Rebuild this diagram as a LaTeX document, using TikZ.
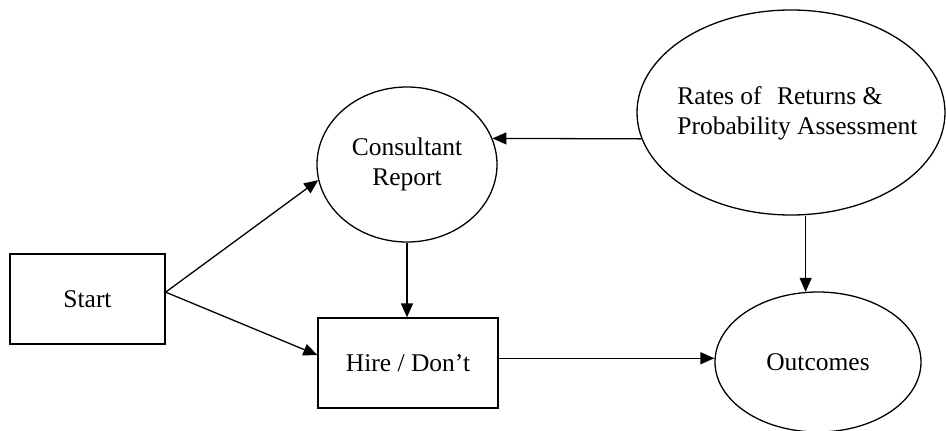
\documentclass[tikz,border=0pt]{standalone}
\usepackage{fontspec}
\setmainfont{Liberation Serif}
\usetikzlibrary{arrows.meta,shapes.geometric}
\begin{document}
\begin{tikzpicture}[x=1pt,y=-1pt,
  line width=1.3pt,
  every node/.style={font=\fontsize{25.5}{30}\selectfont, inner sep=0pt, align=center},
  boxnode/.style={draw, rectangle, minimum width=#1, minimum height=90pt},
  ovalnode/.style={draw, ellipse},
  link/.style={-{Triangle[length=14pt,width=12pt]}}]
  \useasboundingbox (0,0) rectangle (946,431);

  % decision and start boxes
  \node[boxnode=155pt] (start) at (87.5,299) {Start};
  \node[boxnode=180pt] (hire) at (408,363) {Hire / Don’t};

  % chance / value ovals
  \node[ovalnode, minimum width=180pt, minimum height=155pt] (cons) at (407,164.5) {Consultant\\Report};
  \node[ovalnode, minimum width=308pt, minimum height=205pt] (rates) at (791,112.5) {};
  \node[align=left] (ratestext) at (797.5,113) {Rates of\hspace{0.35em} Returns \&\\Probability Assessment};
  \node[ovalnode, minimum width=206pt, minimum height=140pt] (outc) at (818,362) {Outcomes};

  % connectors
  \draw[link] (start.5) -- (cons.190);
  \draw[link] (start.5) -- (hire.175);
  \draw[link] (cons.south) -- (cons.south |- hire.north);
  \draw[link] (rates.190) -- (cons.17);
  \draw[link] (outc.100 |- rates.south) -- (outc.100);
  \draw[link] (hire.3) -- (hire.3 -| outc.west);
\end{tikzpicture}
\end{document}
